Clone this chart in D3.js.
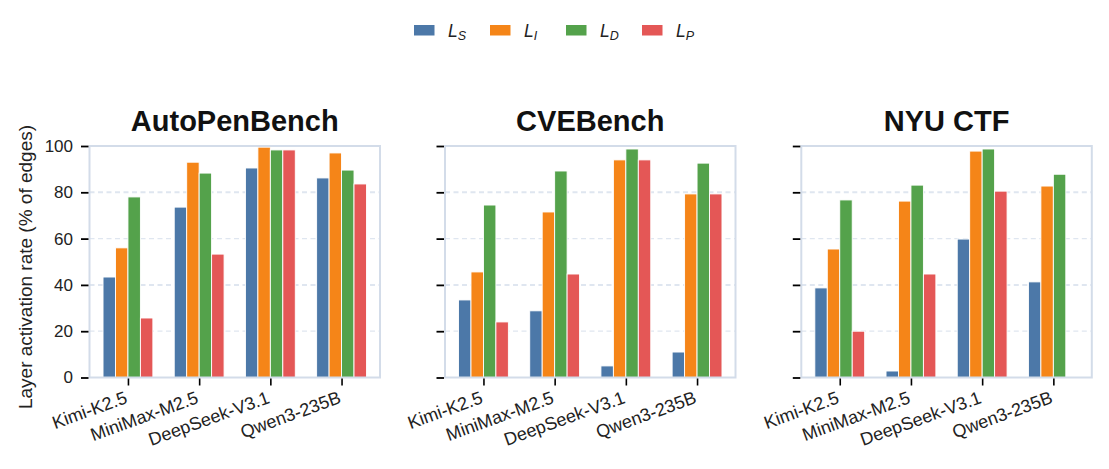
<!DOCTYPE html>
<html>
<head>
<meta charset="utf-8">
<script src="https://cdn.jsdelivr.net/npm/d3@7"></script>
<style>
  body { margin: 0; background: #fff; }
  svg { font-family: "Liberation Sans", Arial, sans-serif; }
</style>
</head>
<body>
<div id="chart"></div>
<script>
const models = ["Kimi-K2.5", "MiniMax-M2.5", "DeepSeek-V3.1", "Qwen3-235B"];
const benchmarks = ["AutoPenBench", "CVEBench", "NYU CTF"];
const layers = ["S", "I", "D", "P"];
const layerColors = ["#4c78a8", "#f58518", "#54a24b", "#e45756"];
const yTicks = [0, 20, 40, 60, 80, 100];

// rows: L_S, L_I, L_D, L_P ; columns follow models
const autoPenBench = [
    [43.4, 73.6, 90.5, 86.2],
    [56.0, 93.0, 99.5, 97.0],
    [78.0, 88.3, 98.3, 89.6],
    [25.7, 53.3, 98.3, 83.6]
];
const cveBench = [
    [33.5, 28.8, 5.0, 11.0],
    [45.6, 71.5, 94.0, 79.3],
    [74.5, 89.2, 98.7, 92.6],
    [24.0, 44.7, 94.0, 79.3]
];
const nyuCtf = [
    [38.7, 2.8, 59.8, 41.3],
    [55.5, 76.2, 97.8, 82.7],
    [76.7, 83.1, 98.7, 87.8],
    [20.0, 44.7, 80.5, null]
];
const panelData = [autoPenBench, cveBench, nyuCtf];

const width = 1109, height = 469;
const panelLeft = [89.5, 445, 801.3];
const panelWidth = 290.5;
const plotTop = 146, plotBottom = 377.5;
const spineColor = "#d3dce9";
const gridColor = "#dfe6f0";

const svg = d3.select("#chart").append("svg")
    .attr("width", width)
    .attr("height", height);

let yScale = d3.scaleLinear().domain([0, 100]).range([plotBottom, plotTop]);

// legend
const legend = svg.append("g");
layers.forEach(function(l, i) {
    const lx = 414 + i * 76;
    legend.append("rect")
        .attr("x", lx).attr("y", 25)
        .attr("width", 20.5).attr("height", 10.5)
        .attr("fill", layerColors[i]);
    const t = legend.append("text")
        .attr("x", lx + 34).attr("y", 36.5)
        .attr("font-size", 17.5)
        .attr("font-style", "italic")
        .attr("fill", "#222");
    t.append("tspan").text("L");
    t.append("tspan").attr("font-size", 12.5).attr("dy", 3).text(l);
});

// y axis label
svg.append("text")
    .attr("transform", "translate(32,267) rotate(-90)")
    .attr("text-anchor", "middle")
    .attr("font-size", 19)
    .attr("fill", "#222")
    .text("Layer activation rate (% of edges)");

panelData.forEach(function(rows, p) {
    const x0 = panelLeft[p];
    const g = svg.append("g");

    let xScale = d3.scalePoint()
        .domain(models)
        .range([x0, x0 + panelWidth])
        .padding(0.54);

    const groupWidth = xScale.step() * 0.7;
    let subScale = d3.scaleBand()
        .domain(layers)
        .range([-groupWidth / 2, groupWidth / 2]);

    // grid
    g.selectAll(".grid")
        .data(yTicks.filter(d => d > 0 && d < 100))
        .enter().append("line")
        .attr("x1", x0).attr("x2", x0 + panelWidth)
        .attr("y1", d => yScale(d)).attr("y2", d => yScale(d))
        .attr("stroke", gridColor)
        .attr("stroke-width", d => d % 40 == 0 ? 2 : 1.2)
        .attr("stroke-dasharray", "5,3.5");

    // bars
    layers.forEach(function(l, i) {
        g.selectAll(".bar" + l)
            .data(rows[i].map((v, j) => ({ model: models[j], value: v })).filter(d => d.value != null))
            .enter().append("rect")
            .attr("x", d => xScale(d.model) + subScale(l))
            .attr("y", d => yScale(d.value))
            .attr("width", subScale.bandwidth())
            .attr("height", d => yScale(0) - yScale(d.value))
            .attr("fill", layerColors[i])
            .attr("stroke", "#fff")
            .attr("stroke-width", 0.9);
    });

    // frame
    g.append("rect")
        .attr("x", x0).attr("y", plotTop)
        .attr("width", panelWidth).attr("height", plotBottom - plotTop)
        .attr("fill", "none")
        .attr("stroke", spineColor)
        .attr("stroke-width", 2);

    // y ticks
    const yAxis = g.append("g")
        .attr("transform", "translate(" + (x0 - 1) + ",0)")
        .call(d3.axisLeft(yScale).tickValues(yTicks).tickSize(7.5).tickPadding(8)
            .tickFormat(p == 0 ? d3.format("d") : () => ""));
    yAxis.select(".domain").remove();
    yAxis.selectAll(".tick line").attr("stroke", "#000").attr("stroke-width", 1.8);
    yAxis.selectAll(".tick text")
        .attr("font-size", 17)
        .attr("fill", "#222")
        .attr("font-family", "Liberation Sans, Arial, sans-serif");

    // x ticks
    const xAxis = g.append("g")
        .attr("transform", "translate(0," + (plotBottom + 1) + ")")
        .call(d3.axisBottom(xScale).tickSize(7).tickFormat(""));
    xAxis.select(".domain").remove();
    xAxis.selectAll(".tick line").attr("stroke", "#000").attr("stroke-width", 1.6);

    g.selectAll(".xlabel")
        .data(models)
        .enter().append("text")
        .attr("transform", d => "translate(" + (xScale(d) - 4) + "," + (plotBottom + 13) + ") rotate(-20)")
        .attr("text-anchor", "end")
        .attr("dy", "0.71em")
        .attr("font-size", 18)
        .attr("fill", "#222")
        .text(d => d);

    // title
    g.append("text")
        .attr("x", x0 + panelWidth / 2)
        .attr("y", 131)
        .attr("text-anchor", "middle")
        .attr("font-size", 29)
        .attr("font-weight", "bold")
        .attr("fill", "#111")
        .text(benchmarks[p]);
});
</script>
</body>
</html>
